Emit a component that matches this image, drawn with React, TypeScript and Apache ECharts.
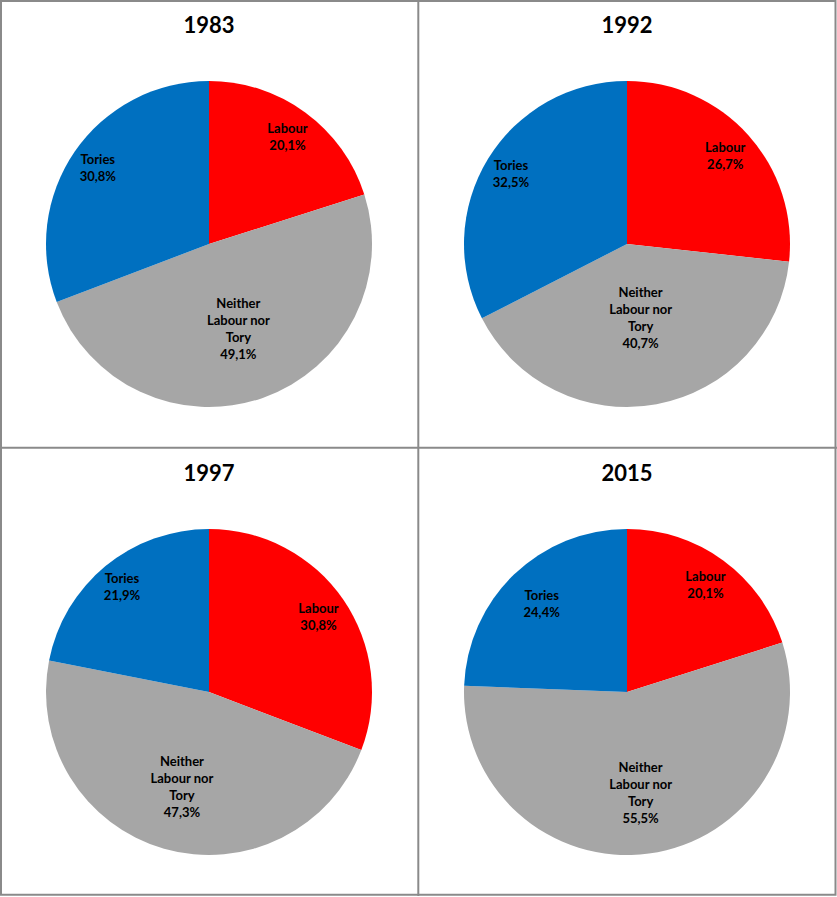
import React, { useEffect, useRef } from "react";
import * as echarts from "echarts";

const years = ["1983", "1992", "1997", "2015"];
const categories = ["Labour", "Neither\nLabour nor\nTory", "Tories"];
const labour = [20.1, 26.7, 30.8, 20.1];
const neither = [49.1, 40.7, 47.3, 55.5];
const tories = [30.8, 32.5, 21.9, 24.4];

const COLORS = ["#FF0000", "#A6A6A6", "#0070C0"];
const PIE_R = 163;
const CENTERS = [
  [209, 244],
  [627, 244],
  [209, 692],
  [627, 692],
];
// label distance from centre, per panel, per category
const LABEL_R = [
  [130, 86, 132],
  [129, 72, 133],
  [130, 95, 134],
  [130, 98, 120],
];
const FONT = "Lato";

const fmt = (v: number) => v.toFixed(1).replace(".", ",") + "%";

export default function App() {
  const ref = useRef<HTMLDivElement>(null);
  useEffect(() => {
    if (!ref.current) return;
    const chart = echarts.init(ref.current, undefined, { renderer: "svg" });
    const series: any[] = [];
    const titles: any[] = [];
    years.forEach((y, p) => {
      const vals = [labour[p], neither[p], tories[p]];
      const data = categories.map((c, i) => ({
        name: c,
        value: vals[i],
        itemStyle: { color: COLORS[i] },
      }));
      series.push({
        type: "pie",
        center: CENTERS[p],
        radius: [0, PIE_R],
        startAngle: 90,
        clockwise: true,
        silent: true,
        label: { show: false },
        labelLine: { show: false },
        itemStyle: { borderWidth: 0 },
        data,
      });
      categories.forEach((c, k) => {
        series.push({
          type: "pie",
          center: CENTERS[p],
          radius: [0, LABEL_R[p][k] * 2],
          startAngle: 90,
          clockwise: true,
          silent: true,
          z: 5,
          itemStyle: { color: "rgba(0,0,0,0)", borderWidth: 0 },
          labelLine: { show: false },
          label: { show: false },
          data: categories.map((cc, i) => ({
            name: cc,
            value: vals[i],
            label:
              i === k
                ? {
                    show: true,
                    position: "inside",
                    formatter: (pp: any) => pp.name + "\n" + fmt(pp.value),
                    color: "#000",
                    fontFamily: FONT,
                    fontWeight: "bold",
                    fontSize: 13,
                    lineHeight: 17,
                    align: "center",
                  }
                : { show: false },
          })),
        });
      });
      titles.push({
        text: y,
        left: CENTERS[p][0],
        top: (p < 2 ? 0 : 448) + 13,
        textAlign: "center",
        padding: 0,
        textStyle: {
          fontFamily: FONT,
          fontWeight: "bold",
          fontSize: 22,
          color: "#000",
        },
      });
    });

    const lineStyle = { stroke: "#8A8A8A", lineWidth: 2 };
    chart.setOption({
      animation: false,
      backgroundColor: "#fff",
      title: titles,
      series,
      graphic: [
        {
          type: "rect",
          shape: { x: 1, y: 1, width: 834.5, height: 893.8 },
          style: { fill: "none", ...lineStyle },
          silent: true,
        },
        {
          type: "line",
          shape: { x1: 418.3, y1: 0, x2: 418.3, y2: 896 },
          style: lineStyle,
          silent: true,
        },
        {
          type: "line",
          shape: { x1: 0, y1: 447.8, x2: 837, y2: 447.8 },
          style: lineStyle,
          silent: true,
        },
      ],
    });
    return () => chart.dispose();
  }, []);
  return (
    <div
      ref={ref}
      style={{ position: "absolute", left: 0, top: 0, width: 837, height: 897 }}
    />
  );
}
